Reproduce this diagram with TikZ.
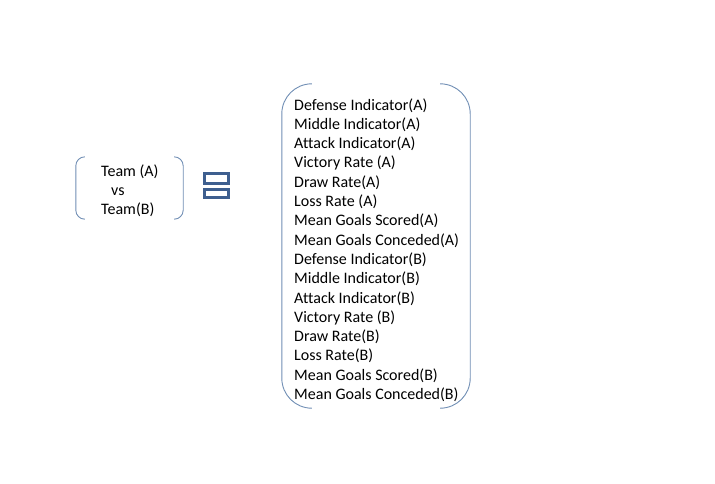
\documentclass[tikz,border=0pt]{standalone}
\usepackage{fontspec}
\setmainfont{Carlito}[Ligatures=NoCommon]
\definecolor{bracketblue}{RGB}{112,142,180}
\definecolor{signblue}{RGB}{62,95,143}
\tikzset{
  bracket/.style={draw=bracketblue, line width=0.9pt},
  listtext/.style={align=left, anchor=west, inner sep=0pt, font=\fontsize{16}{19.3}\selectfont},
  signbox/.style={draw=signblue, line width=2.6pt, rectangle, inner sep=0pt, minimum width=24, minimum height=#1},
  frame/.style={inner sep=0pt, minimum width=#1},
}
% bracket pair round a named frame node: #1 node, #2 radius
\newcommand{\bracketpair}[2]{%
  \draw[bracket, rounded corners=#2] ($(#1.north west)+(#2,0)$) -- (#1.north west)
    -- (#1.south west) -- ($(#1.south west)+(#2,0)$);
  \draw[bracket, rounded corners=#2] ($(#1.north east)+(-#2,0)$) -- (#1.north east)
    -- (#1.south east) -- ($(#1.south east)+(-#2,0)$);
}
\usetikzlibrary{calc}
\begin{document}
\begin{tikzpicture}[x=1pt,y=-1pt]
\useasboundingbox (0,0) rectangle (715,483);

% left side: the match
\node[frame=107, minimum height=62] (teambox) at (129.5,188) {};
\node[listtext, font=\fontsize{16}{19}\selectfont] (teams) at (101,190.5)
  {Team (A)\\\hspace*{10pt}vs\\Team(B)};
\bracketpair{teambox}{9}

% the sign
\node[signbox=10] (signtop) at (216.5,178.5) {};
\node[signbox=8] (signbottom) at (216.5,193.5) {};

% right side: the features
\node[frame=188, minimum height=324] (featbox) at (376,246) {};
\node[listtext] (features) at (294,250) {%
  Defense Indicator(A)\\
  Middle Indicator(A)\\
  Attack Indicator(A)\\
  Victory Rate (A)\\
  Draw Rate(A)\\
  Loss Rate (A)\\
  Mean Goals Scored(A)\\
  Mean Goals Conceded(A)\\
  Defense Indicator(B)\\
  Middle Indicator(B)\\
  Attack Indicator(B)\\
  Victory Rate (B)\\
  Draw Rate(B)\\
  Loss Rate(B)\\
  Mean Goals Scored(B)\\
  Mean Goals Conceded(B)};
\bracketpair{featbox}{30}
\end{tikzpicture}
\end{document}
